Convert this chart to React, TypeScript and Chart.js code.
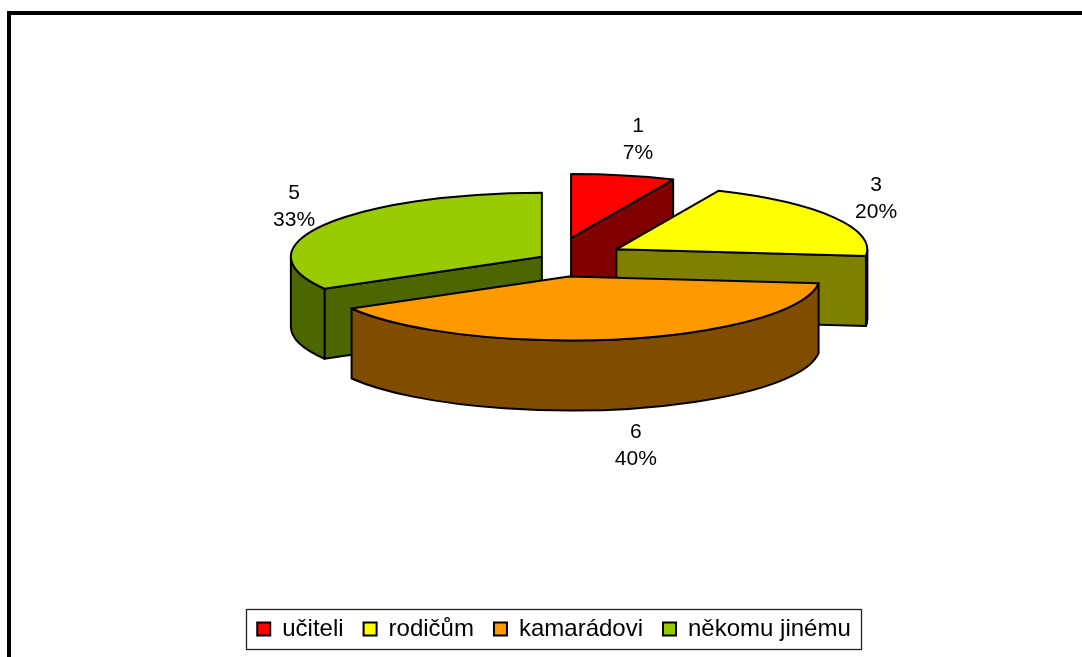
import React, { useEffect, useRef } from "react";
import { Chart, registerables } from "chart.js";

Chart.register(...registerables);

// ---- data ----
const categories = ["učiteli", "rodičům", "kamarádovi", "někomu jinému"];
const counts = [1, 3, 6, 5];

// ---- style ----
const topColors = ["#FF0000", "#FFFF00", "#FF9900", "#99CC00"];
const sideColors = ["#800000", "#808000", "#804C00", "#4C6600"];
const explode = [82, 72, 72, 14];
const FONT = "'Liberation Sans', Arial, Helvetica, sans-serif";
const TILT = 0.255;
const DEPTH = 70;

const pie3d = {
  id: "pie3d",
  beforeDatasetsDraw(chart: any) {
    const ctx: CanvasRenderingContext2D = chart.ctx;
    const meta = chart.getDatasetMeta(0);
    const total = counts.reduce((a, b) => a + b, 0);
    const slices = meta.data.map((arc: any, i: number) => {
      const p = arc.getProps(["x", "y", "startAngle", "endAngle", "outerRadius"], true);
      const rx = p.outerRadius;
      const ry = rx * TILT;
      const mid = (p.startAngle + p.endAngle) / 2;
      const cx = p.x + explode[i] * Math.cos(mid);
      const cy = p.y - DEPTH / 2 + explode[i] * TILT * Math.sin(mid);
      return { i, cx, cy, rx, ry, a0: p.startAngle, a1: p.endAngle, mid };
    });
    const order = [...slices].sort((a, b) => a.cy - b.cy);
    ctx.save();
    ctx.lineJoin = "round";
    ctx.lineWidth = 2;
    ctx.strokeStyle = "#000";
    const paint = (fill: string) => {
      ctx.fillStyle = fill;
      ctx.fill();
      ctx.stroke();
    };
    for (const s of order) {
      const { cx, cy, rx, ry, a0, a1, i } = s;
      const side = sideColors[i];
      // radial wall at start angle
      if (Math.cos(a0) < -1e-6) {
        const px = cx + rx * Math.cos(a0), py = cy + ry * Math.sin(a0);
        ctx.beginPath();
        ctx.moveTo(cx, cy);
        ctx.lineTo(px, py);
        ctx.lineTo(px, py + DEPTH);
        ctx.lineTo(cx, cy + DEPTH);
        ctx.closePath();
        paint(side);
      }
      // radial wall at end angle
      if (Math.cos(a1) > 1e-6) {
        const px = cx + rx * Math.cos(a1), py = cy + ry * Math.sin(a1);
        ctx.beginPath();
        ctx.moveTo(cx, cy);
        ctx.lineTo(px, py);
        ctx.lineTo(px, py + DEPTH);
        ctx.lineTo(cx, cy + DEPTH);
        ctx.closePath();
        paint(side);
      }
      // curved outer wall (front half only)
      const lo = Math.max(a0, 0);
      const hi = Math.min(a1, Math.PI);
      if (hi > lo) {
        ctx.beginPath();
        ctx.ellipse(cx, cy, rx, ry, 0, lo, hi, false);
        ctx.ellipse(cx, cy + DEPTH, rx, ry, 0, hi, lo, true);
        ctx.closePath();
        paint(side);
      }
      // top face
      ctx.beginPath();
      ctx.moveTo(cx, cy);
      ctx.ellipse(cx, cy, rx, ry, 0, a0, a1, false);
      ctx.closePath();
      paint(topColors[i]);
    }
    // data labels
    ctx.fillStyle = "#000";
    ctx.font = `21px ${FONT}`;
    ctx.textAlign = "center";
    ctx.textBaseline = "middle";
    for (const s of slices) {
      const c = Math.cos(s.mid), sn = Math.sin(s.mid);
      const lx = s.cx + (s.rx + 42) * c + 6;
      const ly = s.cy + (s.ry + 37) * sn + (sn > 0 ? DEPTH : 0);
      const pct = Math.round((counts[s.i] / total) * 100) + "%";
      ctx.fillText(String(counts[s.i]), lx, ly - 13.5);
      ctx.fillText(pct, lx, ly + 13.5);
    }
    ctx.restore();
    return false;
  },
  afterDraw(chart: any) {
    const hb = chart.legend && chart.legend.legendHitBoxes;
    if (!hb || !hb.length) return;
    const ctx: CanvasRenderingContext2D = chart.ctx;
    const left = Math.round(Math.min(...hb.map((h: any) => h.left)) - 11) + 0.5;
    const right = Math.round(Math.max(...hb.map((h: any) => h.left + h.width)) + 10) + 0.5;
    const top = Math.round(Math.min(...hb.map((h: any) => h.top)) - 8) + 0.5;
    const bottom = Math.round(Math.max(...hb.map((h: any) => h.top + h.height)) + 8) + 0.5;
    ctx.save();
    ctx.strokeStyle = "#222";
    ctx.lineWidth = 1.3;
    ctx.strokeRect(left, top, right - left, bottom - top);
    ctx.restore();
  },
};

export default function App() {
  const ref = useRef<HTMLCanvasElement>(null);
  useEffect(() => {
    if (!ref.current) return;
    const chart = new Chart(ref.current, {
      type: "pie",
      data: {
        labels: categories,
        datasets: [
          {
            data: counts,
            backgroundColor: topColors,
            borderColor: "#000",
            borderWidth: 2,
            radius: 251,
          } as any,
        ],
      },
      options: {
        responsive: false,
        animation: false,
        layout: { padding: 0 },
        plugins: {
          legend: {
            display: true,
            position: "bottom",
            labels: {
              boxWidth: 13,
              boxHeight: 13,
              padding: 20,
              color: "#000",
              font: { family: FONT, size: 24 },
            },
          },
          tooltip: { enabled: false },
        },
      },
      plugins: [pie3d as any],
    });
    return () => chart.destroy();
  }, []);
  return (
    <div style={{ position: "fixed", inset: 0, overflow: "hidden", background: "#fff" }}>
      <canvas
        ref={ref}
        width={1108}
        height={661}
        style={{ position: "absolute", left: 0, top: -10, width: 1108, height: 661, display: "block" }}
      />
      <div
        style={{
          position: "absolute",
          left: 7,
          top: 11,
          width: 1098,
          height: 720,
          border: "4px solid #000",
          boxSizing: "border-box",
          pointerEvents: "none",
        }}
      />
    </div>
  );
}
